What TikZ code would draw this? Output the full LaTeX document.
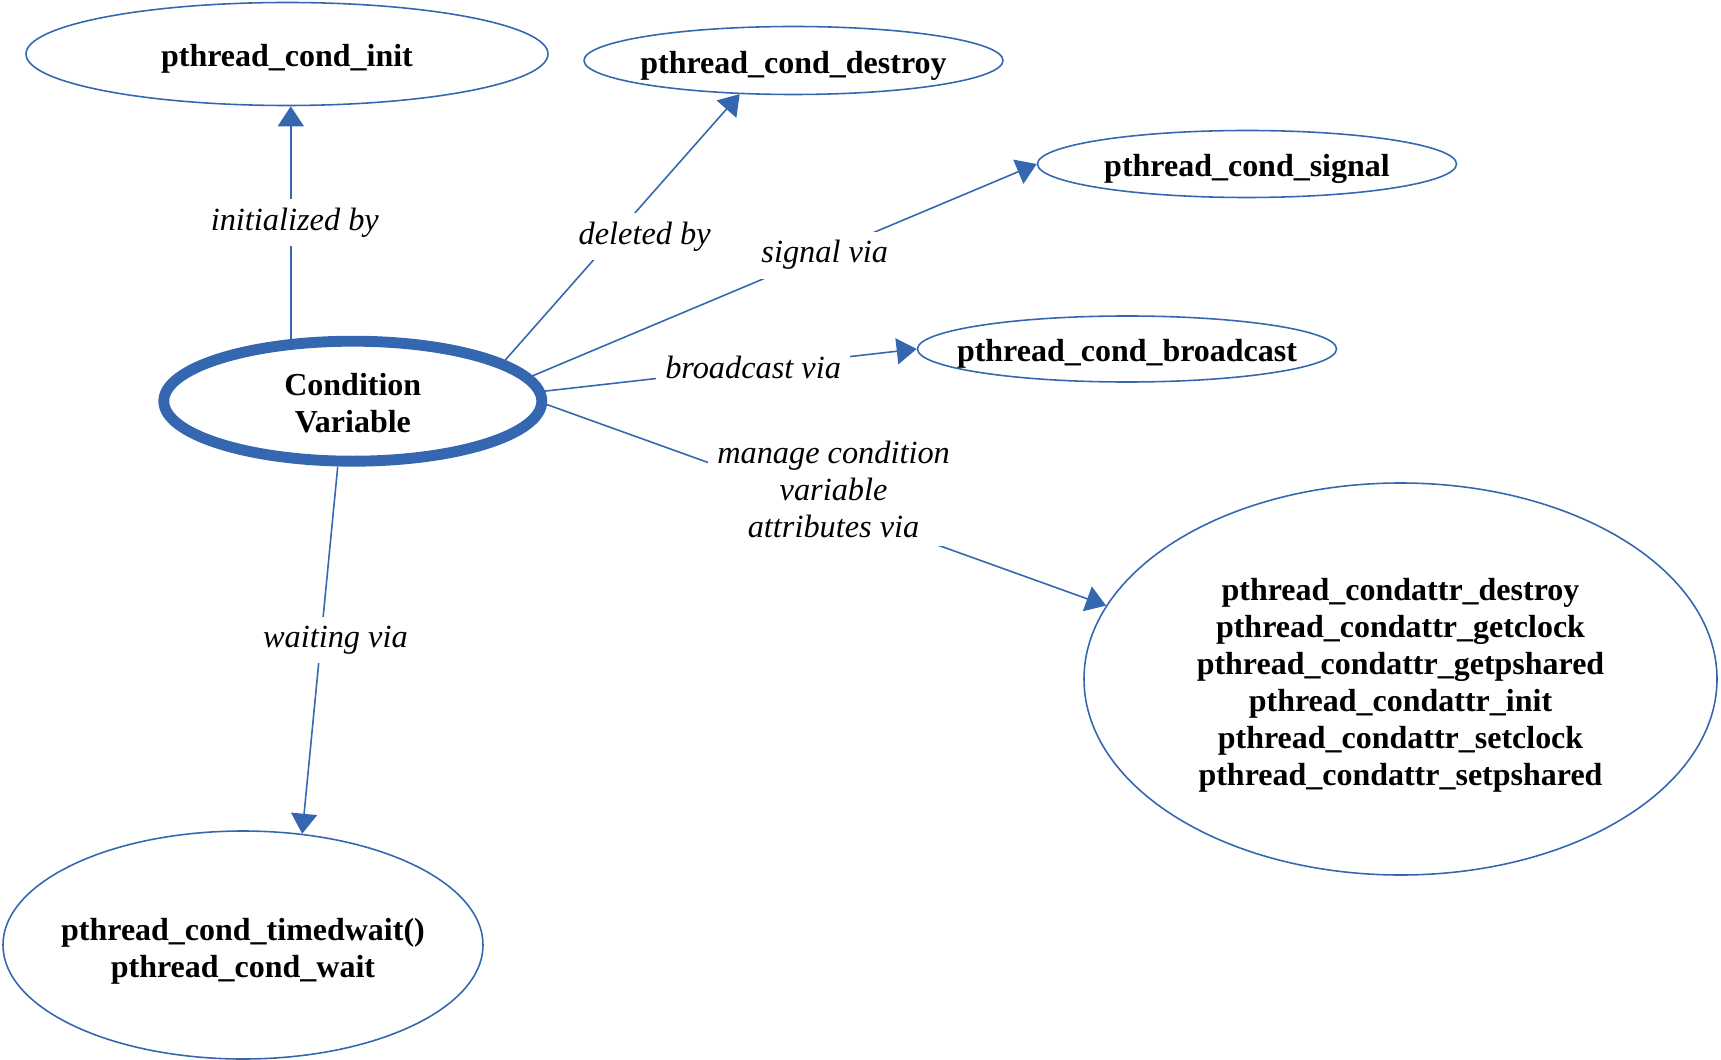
\documentclass[tikz,border=0pt]{standalone}
\usepackage{xcolor}
\usepackage{fontspec}
\setmainfont{Liberation Serif}
\usepackage{tikz}
\usetikzlibrary{shapes.geometric,arrows.meta}

\definecolor{cvblue}{RGB}{53,103,176}

\begin{document}
\begin{tikzpicture}[font=\fontsize{9}{10.5}\selectfont]
    % Define styles
    \tikzstyle{func} = [ellipse, draw=cvblue, line width=0.45pt, inner sep=0pt, inner xsep=-0.5cm, align=center, font=\fontsize{9.1}{10.5}\selectfont\bfseries, execute at begin node={\rule{0pt}{9.2pt}}]
    \tikzstyle{core} = [func, line width=3.1pt]
    \tikzstyle{via} = [fill=white, inner sep=2.5pt, align=center, font=\fontsize{9.2}{10.5}\selectfont\itshape]
    \tikzstyle{arrow} = [draw=cvblue, line width=0.45pt, -{Triangle[length=0.2cm, width=0.26cm]}]

    \useasboundingbox (0,0) rectangle (17.21,-10.60);

    % Nodes
    \node[core, minimum width=3.78cm, minimum height=1.20cm] (cv) at (3.528,-4.012) {\rule{0pt}{7.4pt}Condition\\Variable};
    \node[func, minimum width=5.22cm, minimum height=1.03cm] (init) at (2.87,-0.54) {pthread\_cond\_init};
    \node[func, minimum width=4.19cm, minimum height=0.68cm] (destroy) at (7.935,-0.605) {pthread\_cond\_destroy};
    \node[func, minimum width=4.19cm, minimum height=0.67cm] (signal) at (12.47,-1.64) {pthread\_cond\_signal};
    \node[func, minimum width=4.19cm, minimum height=0.66cm] (broadcast) at (11.27,-3.49) {pthread\_cond\_broadcast};
    \node[func, minimum width=6.33cm, minimum height=3.92cm] (attr) at (14.005,-6.79) {\rule{0pt}{9.9pt}pthread\_condattr\_destroy\\pthread\_condattr\_getclock\\pthread\_condattr\_getpshared\\pthread\_condattr\_init\\pthread\_condattr\_setclock\\pthread\_condattr\_setpshared};
    \node[func, minimum width=4.80cm, minimum height=2.28cm] (wait) at (2.43,-9.45) {\rule{0pt}{9.9pt}pthread\_cond\_timedwait()\\pthread\_cond\_wait};

    % Arrows
    \draw[arrow] (cv.135) -- node[via, pos=0.5, xshift=0.04cm] {initialized by} (cv.135 |- init.south);
    \draw[arrow] (cv.15) -- node[via, pos=0.51, xshift=0.2cm, yshift=-0.12cm] {deleted by} (destroy.212);
    \draw[arrow] (cv.8) -- node[via, pos=0.57, xshift=0.05cm] {signal via} (signal.west);
    \draw[arrow] (cv.3) -- node[via, pos=0.56] {broadcast via} (broadcast.west);
    \draw[arrow] (cv.-1) -- node[via, pos=0.5, xshift=0.07cm, yshift=0.16cm] {manage condition\\variable\\attributes via} (attr.166);
    \draw[arrow] (cv.257) -- node[via, pos=0.46, xshift=0.14cm, yshift=-0.05cm] {waiting via} (wait.62);
\end{tikzpicture}
\end{document}
